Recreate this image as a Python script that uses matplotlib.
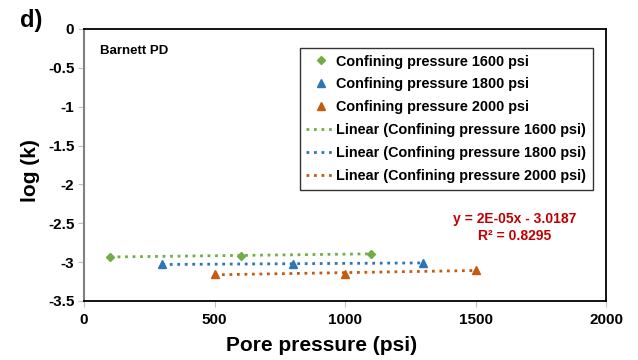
import numpy as np
import matplotlib
matplotlib.use("Agg")
import matplotlib.pyplot as plt

plt.rcParams['font.family'] = ['Liberation Sans', 'DejaVu Sans']
plt.rcParams['font.weight'] = 'bold'

# data
x_1600 = [100, 600, 1100]
y_1600 = [-2.93, -2.92, -2.89]
x_1800 = [300, 800, 1300]
y_1800 = [-3.03, -3.02, -3.01]
x_2000 = [500, 1000, 1500]
y_2000 = [-3.155, -3.15, -3.10]

series = [
    (x_1600, y_1600, 'D', '#70AD47', '1600'),
    (x_1800, y_1800, '^', '#2E75B6', '1800'),
    (x_2000, y_2000, '^', '#C55A11', '2000'),
]

fig = plt.figure(figsize=(6.38, 3.6), dpi=100)
ax = fig.add_axes([84/638, 1 - 301/360, (606-84)/638, (301-29)/360])

pts, fits = [], []
for x, y, m, c, p in series:
    h, = ax.plot(x, y, linestyle='none', marker=m, color=c,
                 markersize=4.5 if m == 'D' else 5.5, label=f'Confining pressure {p} psi',
                 zorder=3)
    pts.append(h)
for x, y, m, c, p in series:
    k, b = np.polyfit(x, y, 1)
    xx = np.array([min(x), max(x)])
    h, = ax.plot(xx, k*xx + b, linestyle=(0, (1, 1.7)), linewidth=2.0, color=c,
                 label=f'Linear (Confining pressure {p} psi)')
    fits.append(h)

ax.set_xlim(0, 2000)
ax.set_ylim(-3.5, 0)
ax.set_xticks([0, 500, 1000, 1500, 2000])
ax.set_yticks([0, -0.5, -1, -1.5, -2, -2.5, -3, -3.5])
ax.set_yticklabels(['0', '-0.5', '-1', '-1.5', '-2', '-2.5', '-3', '-3.5'])
ax.tick_params(labelsize=11, length=4, color='#BFBFBF', pad=5)
ax.tick_params(axis='y', pad=3)
ax.spines['left'].set_color('#808080')
ax.spines['left'].set_linewidth(1.5)
for s in ['top', 'right', 'bottom']:
    ax.spines[s].set_color('black')
    ax.spines[s].set_linewidth(1.3)
for t in ax.get_xticklabels() + ax.get_yticklabels():
    t.set_fontweight('bold')

ax.set_xlabel('Pore pressure (psi)', fontsize=15, fontweight='bold')
ax.xaxis.set_label_coords(0.455, -0.13)
ax.set_ylabel('log (k)', fontsize=15, fontweight='bold')
ax.yaxis.set_label_coords(-0.085, 0.48)

leg = ax.legend(handles=pts + fits, loc='upper right', bbox_to_anchor=(0.975, 0.93),
                fontsize=10.4, frameon=True, fancybox=False, handlelength=2.0,
                handletextpad=0.1, borderpad=0.45, borderaxespad=0,
                labelspacing=0.62)
leg.get_frame().set_edgecolor('black')
leg.get_frame().set_linewidth(1.0)
for t in leg.get_texts():
    t.set_fontweight('bold')

ax.text(0.03, 0.92, 'Barnett PD', transform=ax.transAxes, fontsize=9.5,
        fontweight='bold', va='center')
ax.text(0.825, 0.27, 'y = 2E-05x - 3.0187\nR² = 0.8295', transform=ax.transAxes,
        fontsize=10, fontweight='bold', color='#C00000', ha='center', va='center',
        linespacing=1.2)
fig.text(20/638, 1 - 20/360, 'd)', fontsize=17, fontweight='bold', va='center')

fig.savefig('out.png', dpi=100)
